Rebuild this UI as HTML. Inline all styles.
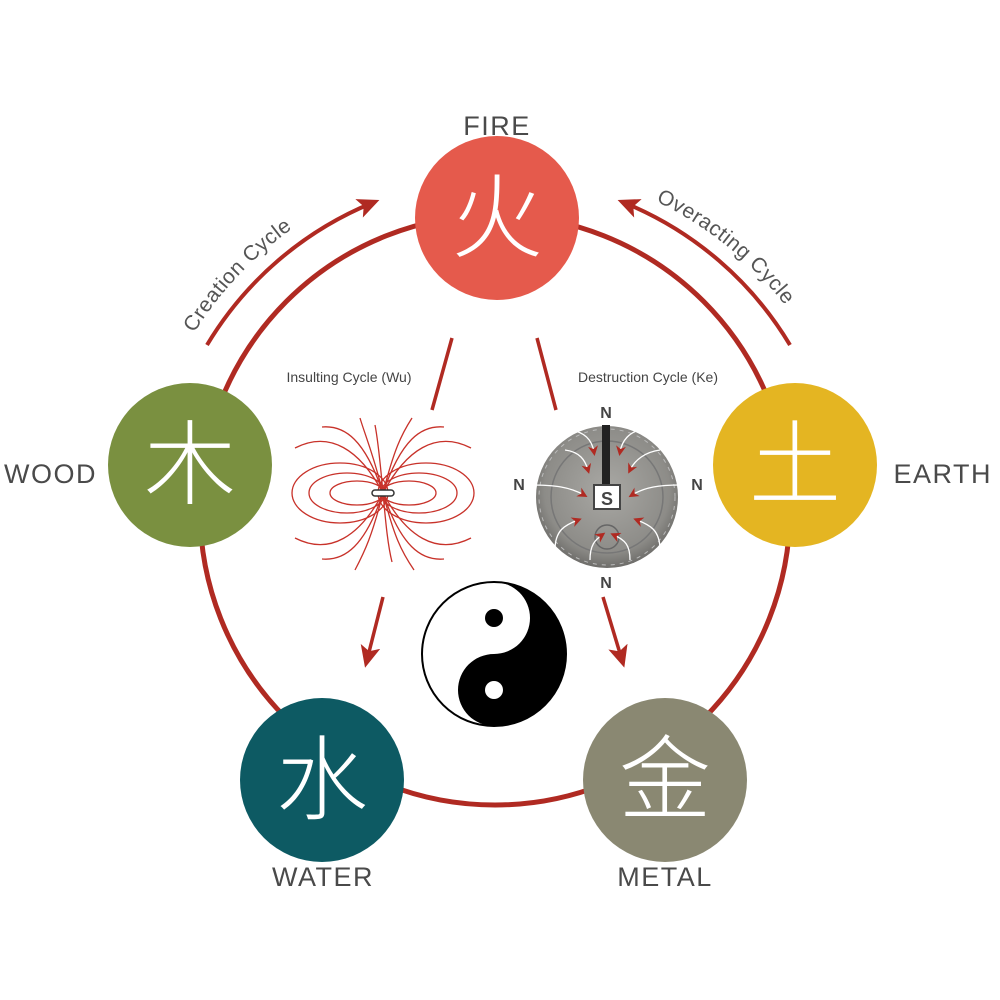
<!DOCTYPE html>
<html><head><meta charset="utf-8"><style>
html,body{margin:0;padding:0;background:#fff;}
svg{display:block;}
</style></head><body>
<svg width="1000" height="1000" viewBox="0 0 1000 1000" xmlns="http://www.w3.org/2000/svg">
<defs>
<marker id="ah" markerWidth="10" markerHeight="10" refX="6" refY="5" orient="auto" markerUnits="userSpaceOnUse">
<path d="M0,0 L10,5 L0,10 L3,5 Z" fill="#b02a22"/></marker>
<marker id="ah2" markerWidth="24" markerHeight="20" refX="14" refY="10" orient="auto" markerUnits="userSpaceOnUse">
<path d="M0,0 L22,10 L0,20 L5,10 Z" fill="#b02a22"/></marker>
<path id="cc" d="M 190,340 A 362,362 0 0 1 372,186"/>
<path id="oc" d="M 630,190 A 362,362 0 0 1 812,345"/>
<radialGradient id="coin" cx="50%" cy="45%" r="55%"><stop offset="0" stop-color="#a9a8a4"/><stop offset="0.8" stop-color="#8d8c88"/><stop offset="1" stop-color="#6e6d6a"/></radialGradient>
</defs>

<!-- main ring -->
<circle cx="495" cy="510" r="295" fill="none" stroke="#b02a22" stroke-width="5"/>

<!-- outer arrows -->
<path d="M 207,345 A 345,345 0 0 1 372,203" fill="none" stroke="#b02a22" stroke-width="4" marker-end="url(#ah2)"/>
<path d="M 790,345 A 345,345 0 0 0 625,203" fill="none" stroke="#b02a22" stroke-width="4" marker-end="url(#ah2)"/>
<text font-family="Liberation Sans, sans-serif" font-size="21" fill="#555" letter-spacing="0.5"><textPath href="#cc" startOffset="8">Creation Cycle</textPath></text>
<text font-family="Liberation Sans, sans-serif" font-size="21" fill="#555" letter-spacing="0.5"><textPath href="#oc" startOffset="28">Overacting Cycle</textPath></text>

<!-- inner lines -->
<line x1="452" y1="338" x2="432" y2="410" stroke="#b02a22" stroke-width="3.5"/>
<line x1="537" y1="338" x2="556" y2="410" stroke="#b02a22" stroke-width="3.5"/>
<line x1="383" y1="597" x2="367" y2="660" stroke="#b02a22" stroke-width="3.5" marker-end="url(#ah2)"/>
<line x1="603" y1="597" x2="622" y2="660" stroke="#b02a22" stroke-width="3.5" marker-end="url(#ah2)"/>

<text x="349" y="382" font-family="Liberation Sans, sans-serif" font-size="14" fill="#444" text-anchor="middle">Insulting Cycle (Wu)</text>
<text x="648" y="382" font-family="Liberation Sans, sans-serif" font-size="14" fill="#444" text-anchor="middle">Destruction Cycle (Ke)</text>

<!-- magnetic field -->
<g fill="none" stroke="#c8322a" stroke-width="1.3">
<ellipse cx="357" cy="493" rx="27" ry="12"/>
<ellipse cx="409" cy="493" rx="27" ry="12"/>
<ellipse cx="347" cy="493" rx="38" ry="20"/>
<ellipse cx="419" cy="493" rx="38" ry="20"/>
<ellipse cx="340" cy="493" rx="48" ry="30"/>
<ellipse cx="426" cy="493" rx="48" ry="30"/>
<path d="M383,493 C360,450 330,430 295,448"/>
<path d="M383,493 C406,450 436,430 471,448"/>
<path d="M383,493 C360,536 330,556 295,538"/>
<path d="M383,493 C406,536 436,556 471,538"/>
<path d="M383,493 C365,440 345,425 322,427"/>
<path d="M383,493 C401,440 421,425 444,427"/>
<path d="M383,493 C365,546 345,561 322,559"/>
<path d="M383,493 C401,546 421,561 444,559"/>
<path d="M383,493 C372,450 365,435 360,418"/>
<path d="M383,493 C394,450 401,435 412,418"/>
<path d="M383,493 C372,536 365,551 355,570"/>
<path d="M383,493 C394,536 401,551 414,570"/>
<path d="M383,493 C380,460 378,440 375,425"/>
<path d="M383,493 C386,526 388,546 392,562"/>
</g>
<rect x="372" y="490" width="22" height="6" rx="3" fill="#fff" stroke="#333" stroke-width="1.5"/>

<!-- coin -->
<circle cx="607" cy="497" r="71" fill="url(#coin)"/>
<circle cx="607" cy="497" r="56" fill="none" stroke="#777" stroke-width="1.5"/>
<circle cx="607" cy="497" r="68" fill="none" stroke="#bbb" stroke-width="1" stroke-dasharray="4 5"/>
<rect x="602" y="425" width="8" height="62" fill="#222"/>
<rect x="594" y="485" width="26" height="24" fill="#fff" stroke="#444" stroke-width="2"/>
<text x="607" y="505" font-family="Liberation Sans, sans-serif" font-size="18" font-weight="bold" fill="#444" text-anchor="middle">S</text>
<circle cx="607" cy="537" r="12" fill="none" stroke="#666" stroke-width="1.5"/>
<g fill="none" stroke="#fff" stroke-width="1.3" marker-end="url(#ah)">
<path d="M570,430 C585,432 592,440 594,452"/>
<path d="M640,430 C630,432 622,440 620,452"/>
<path d="M565,450 C580,452 585,460 588,470"/>
<path d="M660,450 C645,452 635,460 630,470"/>
<path d="M530,485 C555,485 570,487 584,495"/>
<path d="M680,485 C660,485 645,487 632,495"/>
<path d="M555,550 C555,530 565,525 578,520"/>
<path d="M660,550 C660,530 650,525 637,520"/>
<path d="M590,560 C590,545 595,540 602,535"/>
<path d="M630,560 C630,545 625,540 614,535"/>
</g>
<g font-family="Liberation Sans, sans-serif" font-size="16" font-weight="bold" fill="#444" text-anchor="middle">
<text x="606" y="418">N</text><text x="606" y="588">N</text>
<text x="519" y="490">N</text><text x="697" y="490">N</text>
</g>

<!-- yin yang -->
<circle cx="494" cy="654" r="72" fill="#fff" stroke="#000" stroke-width="2"/>
<path d="M494,582 A72,72 0 0 1 494,726 A36,36 0 0 1 494,654 A36,36 0 0 0 494,582 Z" fill="#000"/>
<circle cx="494" cy="618" r="9" fill="#000"/>
<circle cx="494" cy="690" r="9" fill="#fff"/>

<!-- element circles -->
<g font-family="Liberation Sans, 'Noto Sans CJK SC', sans-serif" text-anchor="middle" fill="#fff" font-size="92" font-weight="300">
<circle cx="497" cy="218" r="82" fill="#e55a4c"/>
<text x="497" y="250">火</text>
<circle cx="190" cy="465" r="82" fill="#7a9040"/>
<text x="190" y="497">木</text>
<circle cx="795" cy="465" r="82" fill="#e4b522"/>
<text x="795" y="497">土</text>
<circle cx="322" cy="780" r="82" fill="#0d5a63"/>
<text x="322" y="812">水</text>
<circle cx="665" cy="780" r="82" fill="#8a8872"/>
<text x="665" y="812">金</text>
</g>

<g font-family="Liberation Sans, sans-serif" font-size="27" fill="#4a4a4a" letter-spacing="1.5">
<text x="497" y="135" text-anchor="middle">FIRE</text>
<text x="4" y="483">WOOD</text>
<text x="992" y="483" text-anchor="end">EARTH</text>
<text x="323" y="886" text-anchor="middle">WATER</text>
<text x="665" y="886" text-anchor="middle">METAL</text>
</g>
</svg>
</body></html>
